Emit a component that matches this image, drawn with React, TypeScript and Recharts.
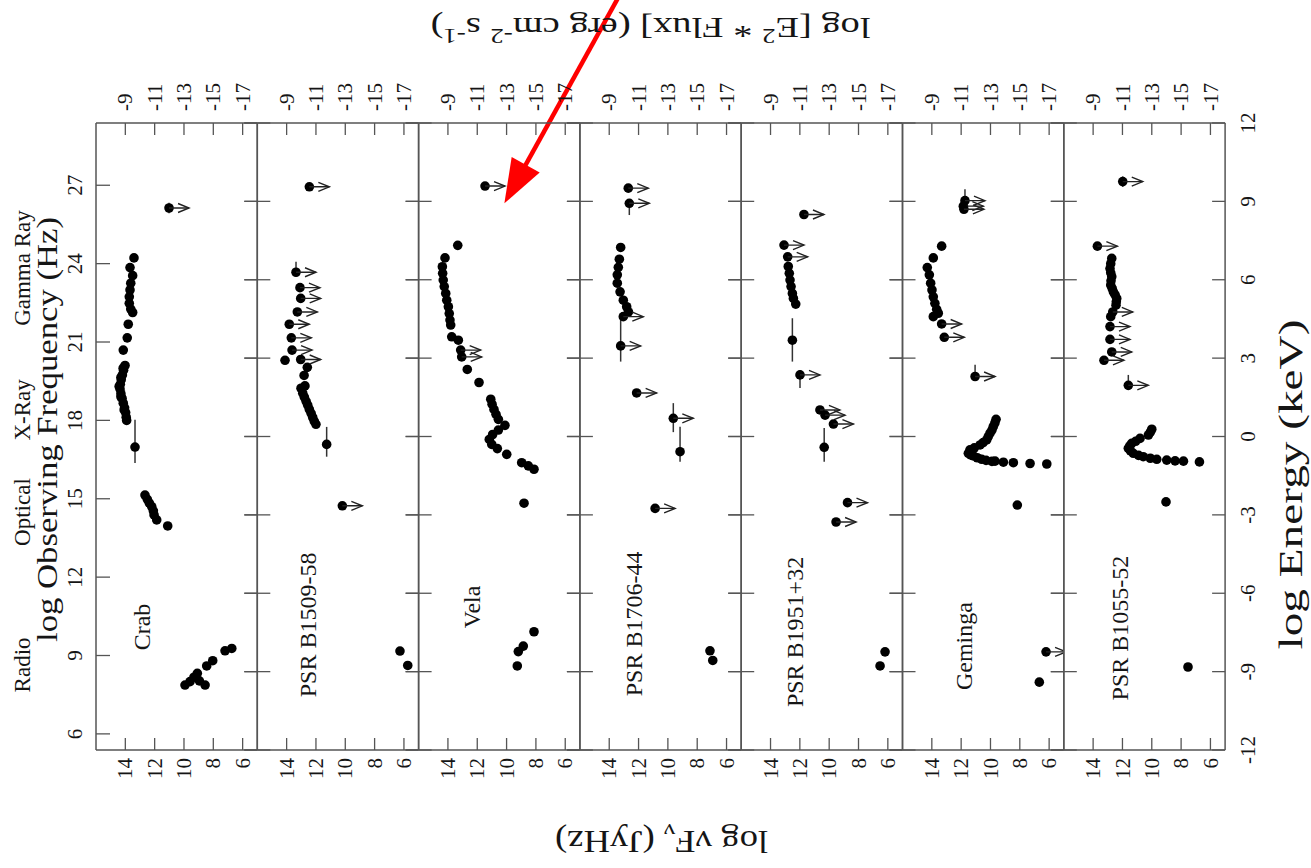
import React from "react";
import { ScatterChart, Scatter, XAxis, YAxis, ErrorBar, ReferenceLine } from "recharts";

type Pt = { f: number; nu: number; e?: [number, number] };

// ---------- axes / labels ----------
const nuFnuTicks = [14, 12, 10, 8, 6];
const fluxTickLabels = ["-9", "-11", "-13", "-15", "-17"];
const freqTicks = [6, 9, 12, 15, 18, 21, 24, 27];
const energyTicks = [-12, -9, -6, -3, 0, 3, 6, 9, 12];
const keVToHz = 17.383; // log10(Hz per keV)
const regionNames = ["Radio", "Optical", "X-Ray", "Gamma Ray"];
const regionCenters = [8.64, 14.49, 18.4, 23.83];
const panelNames = ["Crab", "PSR B1509-58", "Vela", "PSR B1706-44", "PSR B1951+32", "Geminga", "PSR B1055-52"];
const panelNameAt = [
  [12.32, 10.09], [11.98, 10.17], [11.84, 10.86], [11.77, 10.21], [11.77, 9.9], [11.23, 9.36], [11.63, 10.05],
];
const arrowSegment = [{ x: 2.4, y: 34.17 }, { x: 10.15, y: 26.31 }];

// ---------- data: f = log nuFnu (Jy Hz), nu = log frequency (Hz), e = [down, up] ----------
const crabDet: Pt[] = [
  { f: 13.41, nu: 24.22 }, { f: 13.68, nu: 23.85 }, { f: 13.5, nu: 23.54 }, { f: 13.63, nu: 23.25 },
  { f: 13.68, nu: 22.99 }, { f: 13.73, nu: 22.73 }, { f: 13.73, nu: 22.48 }, { f: 13.63, nu: 22.26 },
  { f: 13.5, nu: 22.13 }, { f: 13.8, nu: 21.68 }, { f: 13.87, nu: 21.16 }, { f: 14.14, nu: 20.69 },
  { f: 14.02, nu: 20.1 }, { f: 14.12, nu: 19.92 }, { f: 14.2, nu: 19.74 }, { f: 14.28, nu: 19.56 },
  { f: 14.34, nu: 19.38 }, { f: 14.36, nu: 19.2 }, { f: 14.3, nu: 19.02 }, { f: 14.22, nu: 18.84 },
  { f: 14.14, nu: 18.66 }, { f: 14.05, nu: 18.48 }, { f: 13.98, nu: 18.3 }, { f: 13.94, nu: 18.12 },
  { f: 13.91, nu: 18.0 }, { f: 14.15, nu: 20.0 }, { f: 14.3, nu: 19.65 }, { f: 14.42, nu: 19.3 },
  { f: 14.3, nu: 18.9 }, { f: 14.08, nu: 18.4 },
  { f: 13.34, nu: 16.98, e: [0.61, 1.04] },
  { f: 12.66, nu: 15.14 }, { f: 12.5, nu: 14.98 }, { f: 12.36, nu: 14.83 }, { f: 12.2, nu: 14.7 },
  { f: 12.09, nu: 14.54 }, { f: 12.04, nu: 14.38 }, { f: 11.86, nu: 14.19 }, { f: 11.11, nu: 13.96 },
  { f: 9.93, nu: 7.87 }, { f: 9.59, nu: 8.0 }, { f: 9.32, nu: 8.17 }, { f: 9.09, nu: 8.32 },
  { f: 8.95, nu: 8.03 }, { f: 8.56, nu: 7.87 }, { f: 8.45, nu: 8.6 }, { f: 8.04, nu: 8.8 },
  { f: 7.2, nu: 9.18 }, { f: 6.74, nu: 9.27 },
];
const crabUL: Pt[] = [{ f: 11.02, nu: 26.13, e: [0.2, 0.2] }];

const b1509Det: Pt[] = [
  { f: 14.11, nu: 20.3 }, { f: 12.59, nu: 20.03 }, { f: 12.81, nu: 19.72 }, { f: 12.75, nu: 19.32 },
  { f: 13.02, nu: 19.23 }, { f: 12.9, nu: 19.04 }, { f: 12.79, nu: 18.89 }, { f: 12.67, nu: 18.73 },
  { f: 12.56, nu: 18.58 }, { f: 12.45, nu: 18.42 }, { f: 12.33, nu: 18.27 }, { f: 12.22, nu: 18.11 },
  { f: 12.11, nu: 17.96 }, { f: 12.0, nu: 17.85 },
  { f: 11.27, nu: 17.08, e: [0.47, 0.67] },
  { f: 6.27, nu: 9.17 }, { f: 5.74, nu: 8.62 },
];
const b1509UL: Pt[] = [
  { f: 12.45, nu: 26.94 }, { f: 13.36, nu: 23.67, e: [0.17, 0.4] }, { f: 13.09, nu: 23.08 },
  { f: 13.04, nu: 22.67 }, { f: 13.27, nu: 22.15 }, { f: 13.82, nu: 21.68 }, { f: 13.68, nu: 21.16 },
  { f: 13.63, nu: 20.69 }, { f: 13.04, nu: 20.33 }, { f: 10.2, nu: 14.73 },
];

const velaDet: Pt[] = [
  { f: 13.33, nu: 24.7, e: [0.15, 0.15] }, { f: 14.2, nu: 24.22 }, { f: 14.38, nu: 23.88 },
  { f: 14.36, nu: 23.63 }, { f: 14.32, nu: 23.37 }, { f: 14.25, nu: 23.12 }, { f: 14.15, nu: 22.86 },
  { f: 14.08, nu: 22.6 }, { f: 13.97, nu: 22.35 }, { f: 13.91, nu: 22.09 }, { f: 13.86, nu: 21.84 },
  { f: 13.81, nu: 21.65 }, { f: 13.74, nu: 21.2 }, { f: 13.29, nu: 21.07 }, { f: 12.68, nu: 19.95 },
  { f: 11.88, nu: 19.45 }, { f: 11.08, nu: 18.81 }, { f: 10.99, nu: 18.62 }, { f: 10.86, nu: 18.42 },
  { f: 10.72, nu: 18.23 }, { f: 10.56, nu: 18.04 }, { f: 10.11, nu: 17.81 }, { f: 10.56, nu: 17.63 },
  { f: 10.95, nu: 17.46 }, { f: 11.18, nu: 17.27 }, { f: 11.01, nu: 17.08 }, { f: 10.63, nu: 16.92 },
  { f: 9.99, nu: 16.7 }, { f: 8.97, nu: 16.38 }, { f: 8.52, nu: 16.26 }, { f: 8.13, nu: 16.13 },
  { f: 8.81, nu: 14.83 },
  { f: 9.27, nu: 8.6 }, { f: 9.2, nu: 9.15 }, { f: 8.86, nu: 9.36 }, { f: 8.13, nu: 9.91 },
];
const velaUL: Pt[] = [{ f: 11.47, nu: 26.97 }, { f: 13.13, nu: 20.69 }, { f: 13.06, nu: 20.43 }];

const b1706Det: Pt[] = [
  { f: 13.22, nu: 24.62 }, { f: 13.31, nu: 24.17 }, { f: 13.38, nu: 23.86 }, { f: 13.45, nu: 23.57 },
  { f: 13.45, nu: 23.25 }, { f: 13.26, nu: 22.92 }, { f: 13.04, nu: 22.6 }, { f: 12.81, nu: 22.35 },
  { f: 12.69, nu: 22.15 },
  { f: 9.17, nu: 16.8, e: [0.38, 0.96] },
  { f: 7.13, nu: 9.18 }, { f: 6.94, nu: 8.81 },
];
const b1706UL: Pt[] = [
  { f: 12.7, nu: 26.89 }, { f: 12.63, nu: 26.31, e: [0.45, 0] }, { f: 13.04, nu: 21.97 },
  { f: 13.22, nu: 20.85, e: [0.6, 1.12] }, { f: 12.13, nu: 19.05 }, { f: 9.63, nu: 18.08, e: [0.53, 0.58] },
  { f: 10.87, nu: 14.63 },
];

const b1951Det: Pt[] = [
  { f: 12.79, nu: 23.89 }, { f: 12.72, nu: 23.63 }, { f: 12.67, nu: 23.37 }, { f: 12.6, nu: 23.12 },
  { f: 12.51, nu: 22.86 }, { f: 12.44, nu: 22.67 }, { f: 12.28, nu: 22.45 },
  { f: 12.51, nu: 21.07, e: [0.82, 0.84] },
  { f: 10.34, nu: 16.97, e: [0.55, 0.74] },
  { f: 6.19, nu: 9.14 }, { f: 6.53, nu: 8.6 },
];
const b1951UL: Pt[] = [
  { f: 11.72, nu: 25.88 }, { f: 13.08, nu: 24.71 }, { f: 12.83, nu: 24.26 },
  { f: 11.99, nu: 19.74, e: [0.5, 0.19] }, { f: 10.63, nu: 18.4 }, { f: 10.28, nu: 18.2 },
  { f: 9.71, nu: 17.86 }, { f: 8.75, nu: 14.85 }, { f: 9.53, nu: 14.11 },
];

const gemingaDet: Pt[] = [
  { f: 13.33, nu: 24.67 }, { f: 13.9, nu: 24.22 }, { f: 14.31, nu: 23.85 }, { f: 14.17, nu: 23.57 },
  { f: 14.08, nu: 23.25 }, { f: 13.99, nu: 22.99 }, { f: 13.9, nu: 22.73 }, { f: 13.79, nu: 22.48 },
  { f: 13.67, nu: 22.25 }, { f: 13.56, nu: 22.1 }, { f: 13.9, nu: 21.97 },
  { f: 9.62, nu: 18.04 }, { f: 9.7, nu: 17.9 }, { f: 9.81, nu: 17.76 }, { f: 9.9, nu: 17.63 },
  { f: 10.03, nu: 17.51 }, { f: 10.15, nu: 17.38 }, { f: 10.26, nu: 17.25 }, { f: 10.5, nu: 17.15 },
  { f: 10.71, nu: 17.06 }, { f: 11.1, nu: 16.95 }, { f: 11.4, nu: 16.87 }, { f: 11.51, nu: 16.74 },
  { f: 11.35, nu: 16.68 }, { f: 11.17, nu: 16.64 }, { f: 10.9, nu: 16.57 }, { f: 10.6, nu: 16.51 },
  { f: 10.3, nu: 16.47 }, { f: 9.9, nu: 16.43 }, { f: 9.69, nu: 16.44 }, { f: 9.12, nu: 16.4 },
  { f: 8.44, nu: 16.38 }, { f: 7.3, nu: 16.35 }, { f: 6.16, nu: 16.33 },
  { f: 8.17, nu: 14.76 }, { f: 6.67, nu: 7.98 },
];
const gemingaUL: Pt[] = [
  { f: 11.74, nu: 26.41, e: [0, 0.44] }, { f: 11.85, nu: 26.2 }, { f: 11.81, nu: 26.08 },
  { f: 13.33, nu: 21.69 }, { f: 13.15, nu: 21.18 }, { f: 11.05, nu: 19.68, e: [0, 0.45] },
  { f: 6.21, nu: 9.14 },
];

const b1055Det: Pt[] = [
  { f: 12.73, nu: 24.2 }, { f: 12.8, nu: 24.0 }, { f: 12.85, nu: 23.81 }, { f: 12.8, nu: 23.65 },
  { f: 12.73, nu: 23.5 }, { f: 12.78, nu: 23.34 }, { f: 12.8, nu: 23.18 }, { f: 12.7, nu: 23.05 },
  { f: 12.62, nu: 22.92 }, { f: 12.5, nu: 22.8 }, { f: 12.39, nu: 22.67 }, { f: 12.42, nu: 22.54 },
  { f: 12.44, nu: 22.41 }, { f: 12.8, nu: 21.97 },
  { f: 10.0, nu: 17.66 }, { f: 10.1, nu: 17.55 }, { f: 10.23, nu: 17.44 }, { f: 10.8, nu: 17.31 },
  { f: 11.1, nu: 17.2 }, { f: 11.37, nu: 17.12 }, { f: 11.5, nu: 17.02 }, { f: 11.6, nu: 16.93 },
  { f: 11.45, nu: 16.83 }, { f: 11.26, nu: 16.74 }, { f: 10.9, nu: 16.66 }, { f: 10.58, nu: 16.61 },
  { f: 10.1, nu: 16.55 }, { f: 9.66, nu: 16.51 }, { f: 8.98, nu: 16.48 }, { f: 8.41, nu: 16.45 },
  { f: 7.84, nu: 16.44 }, { f: 6.75, nu: 16.41 },
  { f: 9.03, nu: 14.88 }, { f: 7.53, nu: 8.56 },
];
const b1055UL: Pt[] = [
  { f: 11.98, nu: 27.14, e: [0.2, 0.2] }, { f: 13.71, nu: 24.67 }, { f: 12.66, nu: 22.15 },
  { f: 12.85, nu: 21.59 }, { f: 12.85, nu: 21.1 }, { f: 12.73, nu: 20.62 }, { f: 13.26, nu: 20.3 },
  { f: 11.6, nu: 19.34, e: [0, 0.4] },
];

const detSets = [crabDet, b1509Det, velaDet, b1706Det, b1951Det, gemingaDet, b1055Det];
const ulSets = [crabUL, b1509UL, velaUL, b1706UL, b1951UL, gemingaUL, b1055UL];

// ---------- layout / style ----------
const PAGE_W = 1311;
const PAGE_H = 868;
const PLOT_LEFT = 96;
const PANEL_W = 161.3;
const PLOT_TOP = 123;
const PLOT_BOTTOM = 750;
const FONT = "'Liberation Serif', 'Times New Roman', serif";
const LINE = "#555";
const TXT = "#151515";
const energyPos = energyTicks.map((e) => e + keVToHz);
const yDomain: [number, number] = [energyPos[0], energyPos[energyPos.length - 1]];

const BottomTick = (p: any) => {
  const { x, y, payload } = p;
  return (
    <g>
      <line x1={x} y1={y} x2={x} y2={y - 12} stroke={LINE} strokeWidth={1.3} />
      <text transform={`translate(${x},${y + 8}) rotate(-90)`} textAnchor="end" dy="0.34em" fontSize={21} fontFamily={FONT} fill={TXT}>
        {payload.value}
      </text>
    </g>
  );
};
const TopTick = (p: any) => {
  const { x, y, payload } = p;
  const lbl = fluxTickLabels[nuFnuTicks.indexOf(payload.value)];
  return (
    <g>
      <line x1={x} y1={y} x2={x} y2={y + 12} stroke={LINE} strokeWidth={1.3} />
      <text transform={`translate(${x},${y - 12}) rotate(-90)`} textAnchor="start" dy="0.34em" fontSize={21} fontFamily={FONT} fill={TXT}>
        {lbl}
      </text>
    </g>
  );
};
const FreqTick = (p: any) => {
  const { x, y, payload } = p;
  return (
    <g>
      <line x1={x} y1={y} x2={x + 14} y2={y} stroke={LINE} strokeWidth={1.3} />
      <text transform={`translate(${x - 21},${y}) rotate(-90)`} textAnchor="middle" dy="0.34em" fontSize={21} fontFamily={FONT} fill={TXT}>
        {payload.value}
      </text>
    </g>
  );
};
const CrossTick = (p: any) => (
  <line x1={p.x - 13} y1={p.y} x2={p.x + 13} y2={p.y} stroke={LINE} strokeWidth={1.3} />
);
const InnerRightTick = (p: any) => (
  <line x1={p.x - 13} y1={p.y} x2={p.x} y2={p.y} stroke={LINE} strokeWidth={1.3} />
);
const EnergyTick = (p: any) => {
  const { x, y, index } = p;
  return (
    <g>
      <line x1={x - 13} y1={y} x2={x} y2={y} stroke={LINE} strokeWidth={1.3} />
      <text transform={`translate(${x + 23},${y}) rotate(-90)`} textAnchor="middle" dy="0.34em" fontSize={21} fontFamily={FONT} fill={TXT}>
        {energyTicks[index]}
      </text>
    </g>
  );
};
const RegionTick = (p: any) => {
  const { x, y, index } = p;
  return (
    <text transform={`translate(${x - 65},${y}) rotate(-90)`} textAnchor="middle" fontSize={23} fontFamily={FONT} fill={TXT}>
      {regionNames[index]}
    </text>
  );
};

const freqTitle = (p: any) => {
  const vb = p.viewBox;
  return (
    <text transform={`translate(${vb.x - 38},${vb.y + vb.height / 2 - 7}) rotate(-90)`} textAnchor="middle" fontSize={29}
      fontFamily={FONT} fill={TXT} textLength={425} lengthAdjust="spacingAndGlyphs">
      log Observing Frequency (Hz)
    </text>
  );
};
const energyTitle = (p: any) => {
  const vb = p.viewBox;
  return (
    <text transform={`translate(${vb.x + 77},${vb.y + vb.height / 2 + 48}) rotate(-90)`} textAnchor="middle" fontSize={33}
      fontFamily={FONT} fill={TXT} textLength={330} lengthAdjust="spacingAndGlyphs">
      log Energy (keV)
    </text>
  );
};
const topTitle = (p: any) => {
  const vb = p.viewBox;
  return (
    <text transform={`translate(${vb.x + vb.width / 2 - 10},${vb.y - 104}) rotate(180)`} textAnchor="middle" fontSize={30}
      fontFamily={FONT} fill={TXT} textLength={440} lengthAdjust="spacingAndGlyphs">
      log [E<tspan dy={-11} fontSize={21}>2</tspan><tspan dy={11}> * Flux] (erg cm</tspan>
      <tspan dy={-11} fontSize={21}>-2</tspan><tspan dy={11}> s</tspan>
      <tspan dy={-11} fontSize={21}>-1</tspan><tspan dy={11}>)</tspan>
    </text>
  );
};
const bottomTitle = (p: any) => {
  const vb = p.viewBox;
  return (
    <text transform={`translate(${vb.x + vb.width / 2 + 1},${vb.y + 81}) rotate(180)`} textAnchor="middle" fontSize={32}
      fontFamily={FONT} fill={TXT} textLength={213} lengthAdjust="spacingAndGlyphs">
      log νF<tspan dy={7} fontSize={22}>ν</tspan><tspan dy={-7}> (JyHz)</tspan>
    </text>
  );
};

const DotShape = (p: any) => <circle cx={p.cx} cy={p.cy} r={4.8} fill="#000" />;
const UlShape = (p: any) => {
  const { cx, cy } = p;
  return (
    <g>
      <circle cx={cx} cy={cy} r={4.8} fill="#000" />
      <line x1={cx} y1={cy} x2={cx + 20} y2={cy} stroke="#222" strokeWidth={1.4} />
      <polyline points={`${cx + 9},${cy - 4.5} ${cx + 20},${cy} ${cx + 9},${cy + 4.5}`} fill="none" stroke="#222" strokeWidth={1.4} />
    </g>
  );
};
const NameShape = (p: any) => (
  <text transform={`translate(${p.cx},${p.cy}) rotate(-90)`} textAnchor="middle" fontSize={24} fontFamily={FONT} fill={TXT}>
    {p.payload.label}
  </text>
);
const RedArrow = (p: any) => {
  const { x1, y1, x2, y2 } = p;
  const dx = x2 - x1;
  const dy = y2 - y1;
  const len = Math.hypot(dx, dy) || 1;
  const ux = dx / len;
  const uy = dy / len;
  const hl = 44;
  const hw = 16;
  const bx = x2 - ux * hl;
  const by = y2 - uy * hl;
  return (
    <g>
      <line x1={x1} y1={y1} x2={bx + ux * 3} y2={by + uy * 3} stroke="#ff0000" strokeWidth={4.5} />
      <polygon points={`${x2},${y2} ${bx - uy * hw},${by + ux * hw} ${bx + uy * hw},${by - ux * hw}`} fill="#ff0000" />
    </g>
  );
};

function Panel({ i }: { i: number }) {
  const L = PLOT_LEFT + i * PANEL_W;
  const first = i === 0;
  const last = i === panelNames.length - 1;
  const leftAxes = first ? 2 : 1;
  const nameData = [{ f: panelNameAt[i][0], nu: panelNameAt[i][1], label: panelNames[i] }];
  const axisLine = { stroke: LINE, strokeWidth: 1.5 };
  return (
    <div style={{ position: "absolute", left: 0, top: 0 }}>
      <ScatterChart
        width={PAGE_W}
        height={PAGE_H}
        margin={{
          top: PLOT_TOP - 1,
          bottom: PAGE_H - PLOT_BOTTOM - 1,
          left: L - leftAxes,
          right: PAGE_W - L - PANEL_W - 1,
        }}
      >
        <XAxis xAxisId="b" type="number" dataKey="f" domain={[5, 16]} reversed allowDataOverflow ticks={nuFnuTicks}
          interval={0} height={1} orientation="bottom" tickLine={false} tickSize={0} tickMargin={0} axisLine={axisLine}
          tick={BottomTick} label={i === 3 ? bottomTitle : undefined} />
        <XAxis xAxisId="t" type="number" dataKey="f" domain={[5, 16]} reversed allowDataOverflow ticks={nuFnuTicks}
          interval={0} height={1} orientation="top" tickLine={false} tickSize={0} tickMargin={0} axisLine={axisLine}
          tick={TopTick} label={i === 3 ? topTitle : undefined} />
        <YAxis yAxisId="l" type="number" dataKey="nu" domain={yDomain} allowDataOverflow
          ticks={first ? freqTicks : energyPos} interval={0} width={1} orientation="left" tickLine={false}
          tickSize={0} tickMargin={0} axisLine={axisLine} tick={first ? FreqTick : CrossTick}
          label={first ? freqTitle : undefined} />
        <YAxis yAxisId="r" type="number" dataKey="nu" domain={yDomain} allowDataOverflow ticks={energyPos}
          interval={0} width={1} orientation="right" tickLine={false} tickSize={0} tickMargin={0}
          axisLine={axisLine} tick={last ? EnergyTick : InnerRightTick} label={last ? energyTitle : undefined} />
        {first && (
          <YAxis yAxisId="reg" type="number" dataKey="nu" domain={yDomain} allowDataOverflow ticks={regionCenters}
            interval={0} width={1} orientation="left" tickLine={false} tickSize={0} tickMargin={0}
            axisLine={false} tick={RegionTick} />
        )}
        <Scatter xAxisId="b" yAxisId="l" data={detSets[i]} shape={DotShape} isAnimationActive={false}>
          <ErrorBar dataKey="e" direction="y" width={0} stroke="#333" strokeWidth={1.5} isAnimationActive={false} />
        </Scatter>
        <Scatter xAxisId="b" yAxisId="l" data={ulSets[i]} shape={UlShape} isAnimationActive={false}>
          <ErrorBar dataKey="e" direction="y" width={0} stroke="#333" strokeWidth={1.5} isAnimationActive={false} />
        </Scatter>
        <Scatter xAxisId="b" yAxisId="l" data={nameData} shape={NameShape} isAnimationActive={false} />
        {i === 2 && (
          <ReferenceLine xAxisId="b" yAxisId="l" segment={arrowSegment} ifOverflow="visible" shape={RedArrow} />
        )}
      </ScatterChart>
    </div>
  );
}

export default function App() {
  return (
    <div style={{ position: "absolute", left: 0, top: 0, width: PAGE_W, height: PAGE_H, background: "#fff", overflow: "hidden" }}>
      {panelNames.map((n, i) => (
        <Panel key={n} i={i} />
      ))}
    </div>
  );
}
